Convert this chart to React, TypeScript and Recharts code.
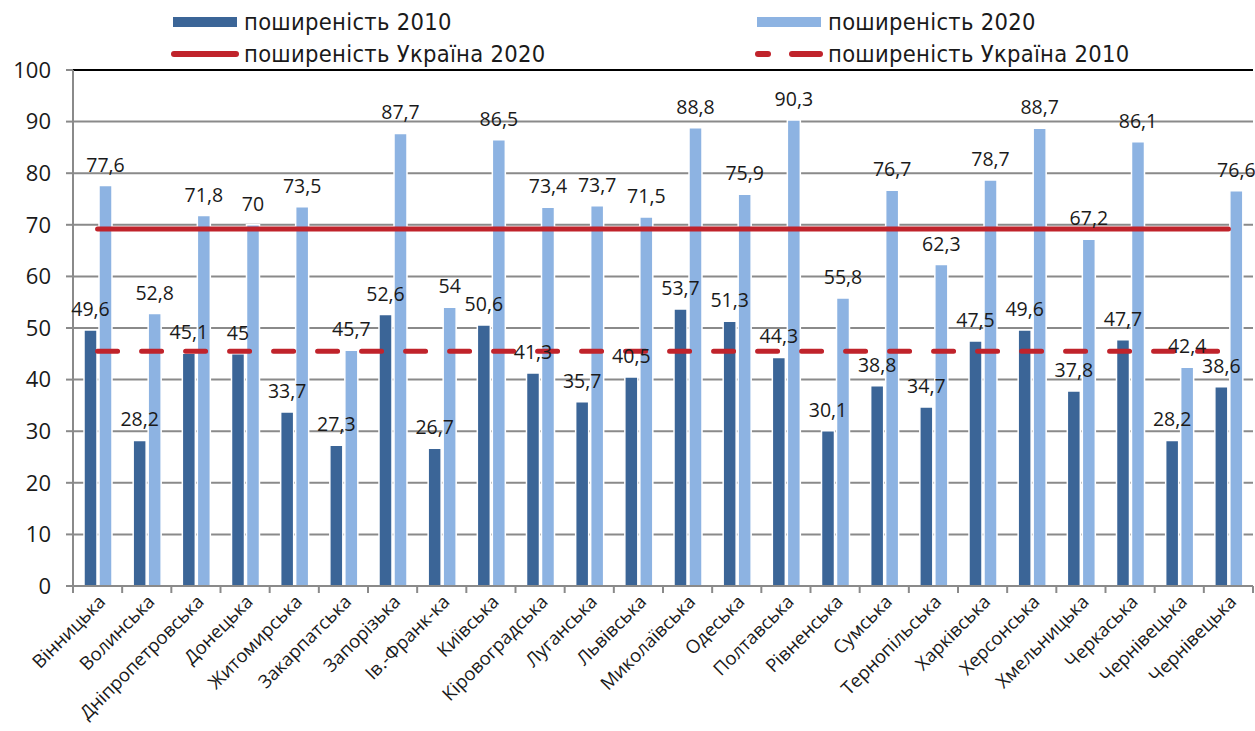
import { ComposedChart, Bar, Line, XAxis, YAxis, CartesianGrid, ReferenceLine, LabelList } from 'recharts'

const regions = [
  'Вінницька', 'Волинська', 'Дніпропетровська', 'Донецька', 'Житомирська', 'Закарпатська',
  'Запорізька', 'Ів.-Франк-ка', 'Київська', 'Кіровоградська', 'Луганська', 'Львівська',
  'Миколаївська', 'Одеська', 'Полтавська', 'Рівненська', 'Сумська', 'Тернопільська',
  'Харківська', 'Херсонська', 'Хмельницька', 'Черкаська', 'Чернівецька', 'Чернівецька',
]
const prev2010 = [49.6, 28.2, 45.1, 45, 33.7, 27.3, 52.6, 26.7, 50.6, 41.3, 35.7, 40.5, 53.7, 51.3, 44.3, 30.1, 38.8, 34.7, 47.5, 49.6, 37.8, 47.7, 28.2, 38.6]
const prev2020 = [77.6, 52.8, 71.8, 70, 73.5, 45.7, 87.7, 54, 86.5, 73.4, 73.7, 71.5, 88.8, 75.9, 90.3, 55.8, 76.7, 62.3, 78.7, 88.7, 67.2, 86.1, 42.4, 76.6]
const ukraine2020 = 69.2
const ukraine2010 = 45.5
const yTicks = [0, 10, 20, 30, 40, 50, 60, 70, 80, 90, 100]
const seriesNames = ['поширеність 2010', 'поширеність 2020', 'поширеність Україна 2020', 'поширеність Україна 2010']

const data = regions.map((name, i) => ({
  idx: i,
  name,
  p2010: prev2010[i],
  p2020: prev2020[i],
  ua2020: ukraine2020,
  ua2010: ukraine2010,
}))

const W = 1255
const H = 731
const LEFT = 73
const RIGHT = 2
const TOP = 70
const XH = 145
const band = (W - LEFT - RIGHT) / regions.length
const plotBottom = H - XH

const DARK = '#3b6597'
const LIGHT = '#8db3e2'
const RED = '#c0232b'
const GRID = '#8a8a8a'
const TXT = '#1a1a1a'
const FONT = '"Open Sans", sans-serif'

const fmt = (v: any) => String(v).replace('.', ',')

function XTick(props: any) {
  const { x, payload, index } = props
  const label = regions[payload.value]
  const isLast = index === regions.length - 1
  const ax = x + 9
  const ay = plotBottom + 17
  return (
    <g>
      <line x1={x - band / 2} x2={x - band / 2} y1={plotBottom} y2={plotBottom + 7} stroke={GRID} strokeWidth={2} />
      {isLast && <line x1={x + band / 2} x2={x + band / 2} y1={plotBottom} y2={plotBottom + 7} stroke={GRID} strokeWidth={2} />}
      <text
        x={ax}
        y={ay}
        transform={`rotate(-45 ${ax} ${ay})`}
        textAnchor="end"
        fontSize={18.5}
        fontFamily={FONT}
        fill={TXT}
      >{label}</text>
    </g>
  )
}

function LegendRow() {
  const item = (left: number, top: number, kind: string, text: string) => (
    <div style={{ position: 'absolute', left, top, display: 'flex', alignItems: 'center' }}>
      <svg width={70} height={14} style={{ marginRight: 4 }}>
        {kind === 'dark' && <rect x={3} y={2} width={64} height={10} fill={DARK} />}
        {kind === 'light' && <rect x={3} y={2} width={64} height={10} fill={LIGHT} />}
        {kind === 'solid' && <line x1={4} x2={66} y1={7} y2={7} stroke={RED} strokeWidth={6} strokeLinecap="round" />}
        {kind === 'dash' && <g>
          <line x1={4} x2={14} y1={7} y2={7} stroke={RED} strokeWidth={6} strokeLinecap="round" />
          <line x1={38} x2={66} y1={7} y2={7} stroke={RED} strokeWidth={6} strokeLinecap="round" />
        </g>}
      </svg>
      <span style={{ fontFamily: '"Liberation Sans Narrow", "DejaVu Sans Condensed", sans-serif', fontSize: 23.5, letterSpacing: 0.3, color: TXT, whiteSpace: 'nowrap' }}>{text}</span>
    </div>
  )
  return (
    <>
      {item(170, 8, 'dark', seriesNames[0])}
      {item(754, 8, 'light', seriesNames[1])}
      {item(170, 40, 'solid', seriesNames[2])}
      {item(754, 40, 'dash', seriesNames[3])}
    </>
  )
}

export default function App() {
  return (
    <div style={{ position: 'absolute', left: 0, top: 0, width: W, height: H, background: '#fff' }}>
      <LegendRow />
      <ComposedChart width={W} height={H} data={data} margin={{ top: TOP, right: RIGHT, bottom: 0, left: 0 }} barGap={2}>
        <CartesianGrid vertical={false} stroke={GRID} strokeWidth={2} />
        <XAxis
          dataKey="idx"
          type="category"
          height={XH}
          interval={0}
          tick={<XTick />}
          tickLine={false}
          axisLine={{ stroke: GRID, strokeWidth: 2 }}
        />
        <YAxis
          domain={[0, 100]}
          ticks={yTicks}
          width={LEFT}
          tickSize={7}
          tickMargin={15}
          tick={{ fill: TXT, fontSize: 22, fontFamily: FONT }}
          tickLine={{ stroke: GRID, strokeWidth: 2 }}
          axisLine={{ stroke: GRID, strokeWidth: 2 }}
        />
        <ReferenceLine y={100} stroke="#000" strokeWidth={2} />
        <Bar dataKey="p2010" name={seriesNames[0]} fill={DARK} stroke="#fff" strokeWidth={1.5} barSize={13} isAnimationActive={false}>
          <LabelList dataKey="p2010" position="top" offset={14} formatter={fmt} style={{ fill: TXT, fontSize: 19.5, fontFamily: FONT }} />
        </Bar>
        <Bar dataKey="p2020" name={seriesNames[1]} fill={LIGHT} stroke="#fff" strokeWidth={1.5} barSize={13} isAnimationActive={false}>
          <LabelList dataKey="p2020" position="top" offset={14} formatter={fmt} style={{ fill: TXT, fontSize: 19.5, fontFamily: FONT }} />
        </Bar>
        <Line dataKey="ua2020" name={seriesNames[2]} stroke={RED} strokeWidth={5} strokeLinecap="round" dot={false} activeDot={false} isAnimationActive={false} />
        <Line dataKey="ua2010" name={seriesNames[3]} stroke={RED} strokeWidth={5} strokeLinecap="round" strokeDasharray="20 24" dot={false} activeDot={false} isAnimationActive={false} />
      </ComposedChart>
    </div>
  )
}
